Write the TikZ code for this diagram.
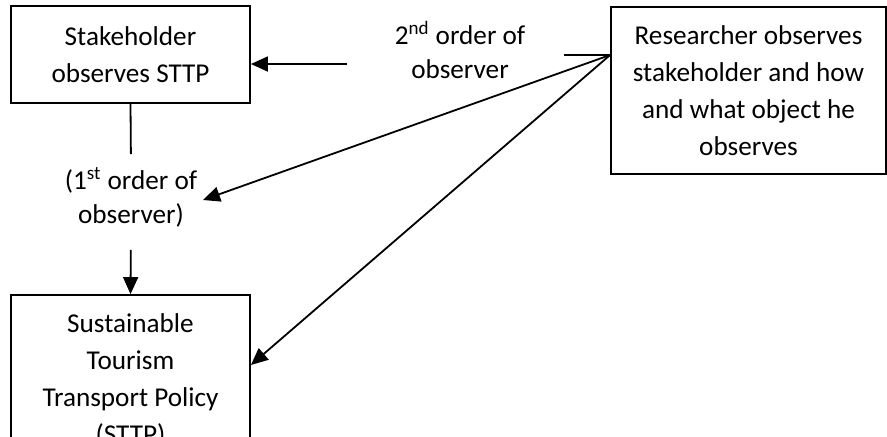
\documentclass[tikz,border=0pt]{standalone}
\usepackage{fontspec}
\setmainfont{Carlito}
\usetikzlibrary{arrows.meta, positioning}

\begin{document}
\begin{tikzpicture}[x=0.5pt, y=-0.5pt, line width=0.9pt,
  box/.style={draw, align=center, inner sep=0pt, minimum width=119.5pt, font=\fontsize{13.6}{18.5}\selectfont},
  lbl/.style={align=center, inner sep=0pt, font=\fontsize{13.6}{16.8}\selectfont},
  arr/.style={-{Triangle[length=8.5pt,width=7.5pt]}}]
\useasboundingbox (0,0) rectangle (887,436);
\clip (0,0) rectangle (887,436);
    \node[box, minimum height=48.5pt] (stake) at (130.5,54.5) {Stakeholder\\observes STTP};
    \node[box, minimum width=137.5pt, minimum height=83.5pt] (res) at (748.5,90.5) {Researcher observes\\stakeholder and how\\and what object he\\observes};
    \node[box, minimum height=85pt] (policy) at (130.5,380) {Sustainable\\Tourism\\Transport Policy\\(STTP)};
    \node[lbl] (second) at (460,50) {2\textsuperscript{nd} order of\\observer};
    \node[lbl] (first) at (131,197) {(1\textsuperscript{st} order of\\observer)};
    \coordinate (rsrc) at (res.west |- 0,55);
    \coordinate (gapr) at (564,55);
    \coordinate (gapl) at (347,64);
    \coordinate (firsttip) at (203,200);
\draw (rsrc) -- (gapr);
\draw[arr] (gapl) -- (gapl -| stake.east);
\draw[arr] (rsrc) -- (firsttip);
\draw[arr] (rsrc) -- (policy.east |- 0,365);
\draw[shorten >=6pt] (stake.south) -- (first.north);
\draw[arr, shorten <=11pt] (first.south) -- (policy.north);
\end{tikzpicture}
\end{document}
